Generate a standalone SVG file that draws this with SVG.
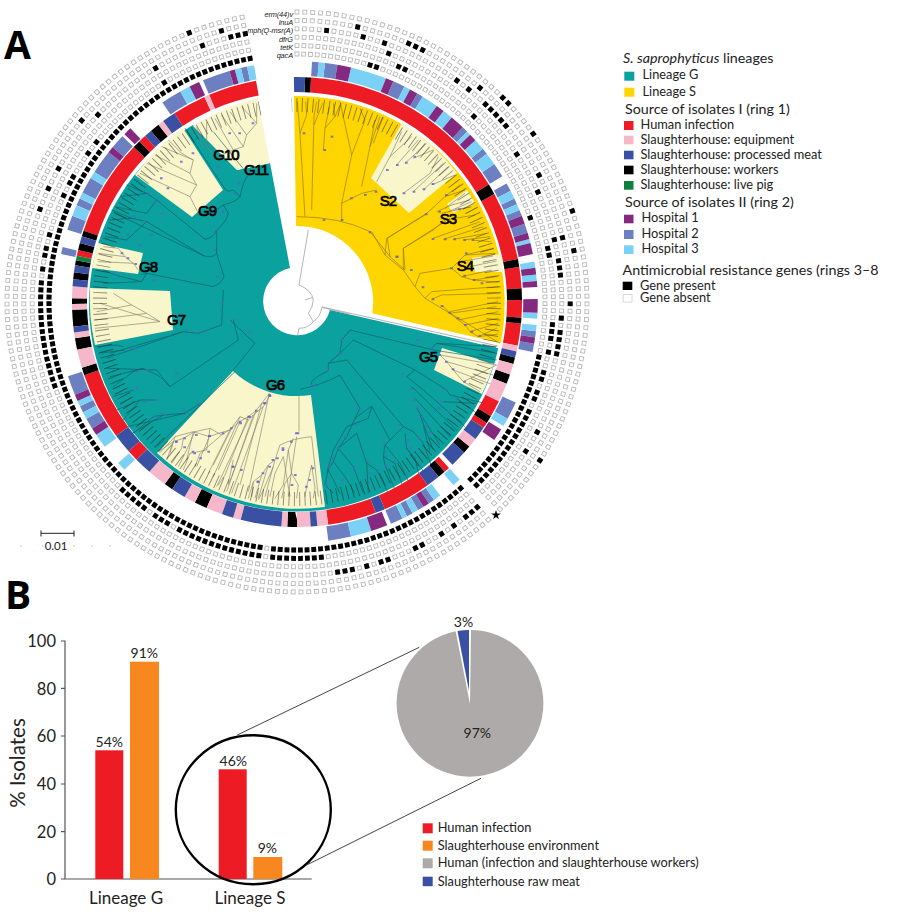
<svg xmlns="http://www.w3.org/2000/svg" width="900" height="920" viewBox="0 0 900 920">
<style>
text{font-family:"Lato","Liberation Sans",sans-serif;fill:#222}
.ring circle,.ring use{fill:none}
.sq{stroke:#b8b8b8;stroke-width:4.8}
.sw{stroke:#fff;stroke-width:3}
.sb{stroke:#000;stroke-width:5}
.mk{fill:none;stroke:#fff;stroke-width:8}
.a1{stroke-width:15;fill:none}
.a2{stroke-width:14.5;fill:none}
.red{stroke:#ed1c24}.blk{stroke:#000}.pnk{stroke:#f5b7c9}.blu{stroke:#3a51a3}.grn{stroke:#0f8040}
.h1{stroke:#84297f}.h2{stroke:#6b7fc1}.h3{stroke:#7bd0f5}
.lc{fill:#f9f6cc}
.bt,.by,.bl,.bh{fill:none;stroke-width:1.9}
.bt{stroke:#0c5c66}.by{stroke:#8d7518}.bl{stroke:#84816a}.bh{stroke:#a9a9ad;stroke-width:2.6}
.nb{fill:none;stroke:#5b63c9;stroke-width:6;stroke-opacity:.8}
.cl{font-family:"Liberation Sans",sans-serif;font-size:15px;fill:#000;stroke:#000;stroke-width:.7;letter-spacing:-1px;text-anchor:middle}
.gl{font-family:"Liberation Sans",sans-serif;font-style:italic;font-size:7.4px;letter-spacing:-.12px;text-anchor:end}
.lg{font-size:12.8px}
.lh{font-size:14.3px}
.b1{font-size:14px;text-anchor:middle}
.ax{font-size:16.5px;text-anchor:end}
.bb{fill:#000;font-family:"Open Sans","Liberation Sans",sans-serif;font-weight:700;font-size:39px}
</style>
<defs>
<circle id="R1" r="248" pathLength="231" transform="rotate(-90.78)" stroke-dasharray=".712 .288" stroke-dashoffset="-.144"/>
<circle id="R2" r="256.4" pathLength="231" transform="rotate(-90.78)" stroke-dasharray=".688 .312" stroke-dashoffset="-.156"/>
<circle id="R3" r="264.8" pathLength="231" transform="rotate(-90.78)" stroke-dasharray=".666 .334" stroke-dashoffset="-.167"/>
<circle id="R4" r="273.2" pathLength="231" transform="rotate(-90.78)" stroke-dasharray=".646 .354" stroke-dashoffset="-.177"/>
<circle id="R5" r="281.6" pathLength="231" transform="rotate(-90.78)" stroke-dasharray=".627 .373" stroke-dashoffset="-.187"/>
<circle id="R6" r="290" pathLength="231" transform="rotate(-90.78)" stroke-dasharray=".609 .391" stroke-dashoffset="-.195"/>
<mask id="m1"><circle class="mk" r="248" pathLength="231" transform="rotate(-90.78)" stroke-dashoffset="-11" stroke-dasharray="2 32 1 20 22 1 31 1 104 231"/></mask>
<mask id="m2"><circle class="mk" r="256.4" pathLength="231" transform="rotate(-90.78)" stroke-dashoffset="-15" stroke-dasharray="2 11 1 21 2 9 3 1 1 2 2 1 2 1 14 24 8 1 13 1 3 1 5 17 16 1 1 1 2 1 1 5 1 1 2 3 1 1 1 12 1 231"/></mask>
<mask id="m3"><circle class="mk" r="264.8" pathLength="231" transform="rotate(-90.78)" stroke-dashoffset="-13" stroke-dasharray="1 22 1 5 1 6 1 2 3 5 1 1 4 231"/></mask>
<mask id="m4"><circle class="mk" r="273.2" pathLength="231" transform="rotate(-90.78)" stroke-dashoffset="-4" stroke-dasharray="1 4 1 2 1 10 1 1 1 2 5 7 1 8 1 8 1 17 1 2 1 9 3 1 1 1 1 2 2 3 2 1 1 1 3 75 1 2 1 2 1 8 1 9 1 6 1 3 3 231"/></mask>
<mask id="m5"><circle class="mk" r="281.6" pathLength="231" transform="rotate(-90.78)" stroke-dashoffset="-8" stroke-dasharray="1 6 3 8 1 24 1 147 1 21 1 231"/></mask>
<mask id="m6"><circle class="mk" r="290" pathLength="231" transform="rotate(-90.78)" stroke-dashoffset="-29" stroke-dasharray="2 4 1 10 1 32 1 137 1 231"/></mask>
</defs>
<rect width="900" height="920" fill="#fff"/>

<!-- tree sectors -->
<path fill="#0aa19e" d="M330,310 L498.3,348.3 A207,207 0 1 1 193,125 L237,170 L270,163 L290,268 A34,34 0 1 0 330,310Z"/>
<path fill="#ffd500" d="M294,96 A207,207 0 0 1 500.7,343.3 L372.3,313.3 A76,76 0 0 0 296,226Z"/>
<path class="lc" d="M193,126 A207,207 0 0 1 258,98 L270,163 L237,170Z"/>
<path class="lc" d="M135,175 A207,207 0 0 1 183,128 L223,190 L192,217Z"/>
<path class="lc" d="M98,243 L143,253 L138,274 L92,268 A207,207 0 0 1 98,243Z"/>
<path class="lc" d="M90,288 L170,291 L173,330 L95,345 A207,207 0 0 1 90,288Z"/>
<path class="lc" d="M157,453 L233,371 A94,94 0 0 0 311,395 L325,507 A207,207 0 0 1 157,453Z"/>
<path class="lc" d="M442,348 L494,364 A207,207 0 0 1 482,394 L434,370Z"/>
<path class="lc" d="M402,123 A207,207 0 0 1 457,173 L409,213 L371,178Z"/>
<path class="lc" d="M447,204 L467,190 L475,203 L453,213Z"/>
<path class="lc" d="M472,258 L501,254 L503,272 L475,272Z"/>
<path fill="none" stroke="#b4b4b8" stroke-width="1" d="M322,307 L498,346"/>

<!-- branches -->
<g id="root-tree" transform="translate(250,215) scale(.3333)">
<path class="bh" d="M175,45 L147,210 Q185,225 190,255 Q188,280 175,295 L190,320 Q175,340 147,340 L143,360 M165,255 L188,247 M215,278 Q212,305 190,320 M215,277 L300,298"/>
</g>
<g id="tree-yellow-top" transform="translate(290,0) scale(.3333)">
<path class="by" d="M20,650 Q150,650 240,695 M45,650 L30,400 L50,345 L47,305 M30,400 L22,305 M65,630 L72,350 L80,305 M72,375 L98,310 M100,450 L105,385 L135,350 L130,310 M105,385 L118,320 M135,350 L150,315 M155,610 L185,465 L225,360 L210,325 M185,465 L150,305 M215,560 L240,440 L255,360 M240,440 L270,350 M215,580 L260,570 M250,430 L280,350 M155,660 L155,610 L215,580 M240,695 L300,770 L292,715 L410,640 M300,770 L345,810 L340,745 L480,655"/>
<path class="bl" d="M260,545 L300,470 L335,395 M300,470 L365,410 M320,495 L385,420 M345,490 L410,430 M370,475 L430,450 M340,580 L420,520 L445,470 M370,575 L460,490 M400,570 L475,500 M425,555 L495,525"/>
<path class="nb" d="M38,400h8M98,660h8M152,660h8M236,697h8M100,450h8M122,410h8M180,595h8M222,585h8M254,575h8M316,770h8M288,510h8M318,495h8M345,488h8M370,470h8M338,580h8M368,575h8M398,568h8M425,552h8"/>
</g>
<g id="tree-yellow-lower" transform="translate(370,180) scale(.3333)">
<path class="by" d="M165,105 L225,50 L270,15 M225,50 L285,30 M200,95 L245,75 L300,60 M215,100 L305,80 M190,150 L225,120 L315,105 M190,175 L330,125 M220,178 L340,140 M250,178 L350,160 M280,180 L360,170 M305,180 L362,185 M245,265 L285,225 L370,205 M285,225 L375,220 M245,265 L275,290 L365,270 M275,290 L310,300 L380,290 M310,300 L385,307 M165,355 L185,335 L385,320 M185,358 L215,345 L390,340 M215,375 L240,400 L380,380 M240,400 L265,420 L385,395 M265,420 L285,435 L385,415 M285,435 L300,455 L385,430 M300,455 L325,470 L380,445 M325,470 L385,462 M240,395 L385,365 M165,355 L390,490"/>
<path class="by" d="M5,155 L45,225 L50,175 L165,105 M45,225 L100,270 L100,205 L190,150 M100,270 L135,320 L150,280 L245,265 M135,320 L165,355"/>
<path class="bl" d="M225,85 L285,40 M235,95 L305,65 M255,88 L300,82 M270,245 L370,228 M300,260 L380,243"/>
<path class="nb" d="M165,103h8M225,45h8M205,95h8M265,88h8M185,177h8M222,178h8M250,178h8M280,180h8M305,180h8M240,265h8M285,220h8M280,287h8M308,300h8M332,310h8M78,230h8M120,270h8M155,322h8M185,358h8M212,378h8M235,398h8M260,415h8M282,435h8M302,455h8M325,468h8"/>
</g>
<g id="tree-teal-top" transform="translate(0,0) scale(.3333)">
<path class="bt" d="M640,860 Q665,850 672,830 L650,760 M640,860 L440,820 L425,845 L345,825 M440,820 L420,825 M425,845 L310,850 M345,825 L310,810 M650,760 Q640,775 612,768 L345,640 M612,768 L440,665 L380,720 L315,710 M440,665 L395,655 L325,660 M395,655 L335,630 M650,760 L650,690 Q640,715 615,718 L470,600 L440,640 L345,620 M470,600 L440,580 L360,590 M440,580 L380,555 M650,690 Q680,665 685,640 L670,615 M670,615 Q640,640 595,645 M670,615 Q710,605 720,590 L700,570 M700,570 Q680,580 670,560 L555,385 M720,590 Q730,540 745,525 L640,395"/>
<path class="bl" d="M595,640 L570,590 L420,520 M570,590 L590,555 L440,490 M590,555 L570,520 L465,465 M570,520 L580,480 L485,440 M580,480 L545,460 L505,420 M610,445 L590,380 M650,470 L620,440 L620,365 M650,470 L700,450 L645,355 M700,450 L730,440 L665,345 M730,440 L740,405 L690,335 M740,405 L770,370 L725,320 M770,370 L770,310 M310,740 L355,745 L375,770 L400,790 L295,785 M375,770 L295,760 M400,790 L415,810"/>
<path class="nb" d="M648,690h8M640,750h8M650,830h8M458,840h8M345,825h8M450,705h8M415,735h8M380,705h8M430,665h8M480,640h8M400,650h8M462,605h8M440,580h8M665,635h8M700,580h8M712,550h8M650,500h8M575,460h8M540,485h8M500,565h8M480,535h8M685,400h8M715,400h8M755,370h8M362,760h8M380,775h8M403,792h8"/>
</g>
<g id="tree-teal-left" transform="translate(0,290) scale(.3333)">
<path class="bt" d="M670,0 L665,105 L595,130 M595,130 L550,125 L330,190 M550,125 L320,205 M700,90 L715,150 L510,290 L470,240 L320,235 M510,290 L480,260 L430,235 L330,260 M430,235 L400,245 L340,290 M400,300 L340,320 M470,330 L420,330 L350,360 M420,330 L370,390 M600,340 L555,370 L360,415 M555,370 L490,375 L380,440 M490,375 L460,380 L400,430 M470,470 L705,245 M370,170 L350,165 L290,170 M375,180 L295,190 M690,90 L765,160 L700,240"/>
<path class="bl" d="M810,315 L790,350 L760,375 L745,390 L720,380 L690,420 L655,430 L628,440 L580,425 L525,440 L478,490 M790,350 L695,610 M760,375 L680,605 M745,390 L650,590 M720,380 L640,560 M690,420 L625,550 M628,440 L590,530 M580,425 L560,510 M525,440 L510,490 M700,510 L685,580 M850,500 L825,550 L810,620 M850,500 L870,620 M820,530 L790,600 L775,630 M890,440 L875,540 L865,620 M340,10 L395,45 L440,70 L480,95 L300,40 M395,45 L290,65 M440,70 L285,90 M480,95 L285,115"/>
<path class="nb" d="M662,40h8M700,90h8M745,125h8M555,120h8M585,128h8M610,125h8M400,175h8M525,250h8M438,240h8M405,245h8M460,330h8M430,335h8M405,295h8M595,340h8M548,362h8M490,372h8M460,380h8M805,315h8M792,340h8M745,380h8M718,400h8M625,438h8M580,490h8M525,455h8M695,530h8M845,480h8M770,575h8M815,510h8M885,430h8"/>
</g>
<g id="tree-g6" transform="translate(150,370) scale(.3333)">
<path class="bl" d="M358,70 L335,100 L270,345 M358,70 L295,365 M335,100 L318,122 L245,320 M318,122 L295,140 L225,315 M295,140 L270,155 L205,300 M270,155 L245,175 L190,285 M245,175 L215,195 L180,175 L135,185 L100,205 L70,215 L25,245 M215,195 L150,250 L135,290 M180,175 L170,240 L120,250 L100,300 M135,185 L110,240 L85,290 M100,205 L95,235 L65,280 M70,215 L50,270 M225,315 L205,345 M245,320 L235,345 M447,78 L447,185 M390,225 Q430,205 485,200 L505,380 M485,285 L470,350 L465,380 M485,285 L495,355 L490,385 M390,225 L375,270 L355,285 L335,315 L310,335 L295,385 M375,270 L345,380 M355,285 L325,385 M335,315 L315,385 M310,335 L305,380 M430,205 L415,240 L425,310 L405,340 L395,385 M425,310 L445,345 L440,385 M415,240 L400,345 L375,385"/>
<path class="nb" d="M356,78h8M338,100h8M315,122h8M292,140h8M266,155h8M240,175h8M215,190h8M175,198h8M135,195h8M100,205h8M75,215h8M100,232h8M125,245h8M172,245h8M148,265h8M440,190h8M420,215h8M395,235h8M378,265h8M355,290h8M335,310h8M320,335h8M245,290h8M270,300h8M432,315h8M485,295h8M475,330h8M422,345h8M465,350h8"/>
</g>
<g id="tree-teal-bottom" transform="translate(300,330) scale(.3333)">
<path class="bt" d="M0,178 Q65,165 120,135 M35,165 Q25,150 85,122 L85,100 L140,90 L310,290 M120,135 L180,235 L165,265 L215,228 L270,330 M165,265 L140,320 M215,230 L205,265 L140,290 L100,360 L80,430 M140,320 L115,355 L100,395 L85,420 L75,465 M170,310 L200,400 L230,420 L265,490 M200,400 L205,490 M170,310 L115,355 M115,355 L160,410 L190,490 M100,395 L135,440 L165,490 M85,420 L120,490 M75,465 L100,490 M120,70 L160,30 L345,120 M85,100 L120,70 M125,30 L150,0 L400,60 M120,70 L125,30 M310,290 L255,345 L300,400 L335,475 M255,345 L250,380 L285,400 L310,475 M250,380 L255,405 L285,480 M310,290 L340,305 L370,340 L395,410 M315,310 L320,355 L375,430 M320,355 L345,385 L360,450 M345,120 L320,140 L370,180 L495,290 M345,120 L440,180 L450,195 L555,220 M335,170 L470,300 M345,205 L450,320 M350,235 L420,345 M360,255 L400,360 M370,285 L390,365 M430,215 L530,220 M470,205 L530,250 M395,55 L410,40 L590,70 M410,40 L590,50 M400,60 L590,90"/>
<path class="bl" d="M420,75 L440,95 L460,120 L490,155 L590,105 M440,95 L580,135 M460,120 L580,165 M490,155 L540,185 M420,75 L590,105"/>
<path class="nb" d="M120,30h8M118,70h8M80,122h8M32,165h8M172,235h8M162,285h8M132,320h8M112,355h8M95,385h8M85,412h8M75,465h8M125,450h8M158,415h8M200,395h8M203,430h8M230,420h8M250,340h8M255,378h8M255,405h8M280,395h8M295,285h8M320,330h8M328,355h8M355,325h8M305,132h8M330,178h8M340,210h8M350,235h8M362,260h8M375,285h8M385,308h8M412,235h8M435,180h8M465,208h8M420,215h8M440,243h8M350,30h8M392,55h8M415,75h8M435,95h8M455,118h8M490,155h8"/>
</g>
<g id="tip-labels" transform="translate(297,302)" class="ring">
<circle r="197" pathLength="231" transform="rotate(-90.78)" stroke="#1c1c1c" stroke-opacity=".5" stroke-width="14" stroke-dasharray=".17 .83" stroke-dashoffset="-.41"/>
<circle r="197" pathLength="231" transform="rotate(-90.78)" stroke="#fff" stroke-width="24" stroke-dashoffset="-224.6" stroke-dasharray="5.9 231"/>
</g>

<g id="rings" class="ring" transform="translate(297,302)">
<circle class="a1 red" r="217.5" pathLength="360" transform="rotate(-90)" stroke-dashoffset="-3.6" stroke-dasharray="54.9 2.8 17.7 2 5.5 3 4.5 1.5 5.7 15 4.3 2 1.5 13.5 1.5 5.5 12.5 2.5 12.5 53.5 3 5 17.5 30.9 1.5 5.1 25 2 2 9.5 8.7 1.3 12.5 360"/>
<circle class="a1 blk" r="217.5" pathLength="360" transform="rotate(-90)" stroke-dashoffset="-2.1" stroke-dasharray="1.5 54.9 2.8 17.7 2 5.5 3 4.5 1.5 8.8 1.7 2.8 2.5 9.2 2 7.5 2 7 2 39 2.5 21.2 3.3 6.7 2.3 35 2 4.7 3 3 4.3 1.5 1.5 4.8 1.8 1.8 1.3 2.7 1.8 1.8 1.5 25 2 4 2.5 360"/>
<circle class="a1 pnk" r="217.5" pathLength="360" transform="rotate(-90)" stroke-dashoffset="-101.2" stroke-dasharray="1.5 3.3 2.8 2.5 4.9 11.3 2.5 42 2.8 1.7 3.5 2.5 1.5 10.5 2 3 4.2 3.3 3 6 5 32 4.7 3 1.5 5.8 1.5 1.5 3 48 1.5 12.2 1.3 360"/>
<circle class="a1 blu" r="217.5" pathLength="360" transform="rotate(-90)" stroke-dasharray="2.1 100.6 1.6 19.7 3.5 4.5 4.3 4.7 3.5 12.5 2.5 15.3 1.7 7.5 10.5 2 3 10.5 3.7 7.3 4.5 3 5 28.7 1.5 10.3 1.8 1.8 1.8 5.8 1.8 30.5 2 4 3.5 32.2 .8 360"/>
<circle class="a1 grn" r="217.5" pathLength="360" transform="rotate(-90)" stroke-dashoffset="-280.7" stroke-dasharray="1.2 360"/>
<circle class="a2 h2" r="233.5" pathLength="360" transform="rotate(-90)" stroke-dashoffset="-3.6" stroke-dasharray="1.6 1.5 3 13.9 2.9 3.5 1.5 12 1.5 5.5 1.5 3 3.5 2 2 2 1.5 1.5 1.5 2 2.3 23.7 1.5 1.5 2 12.7 4.3 26.3 1.5 1.5 1.5 1.5 1.5 1.2 3 10 5.5 65.8 2.7 1.7 1.6 3 4.7 29.5 1.7 4.3 3.5 2.7 1.8 1.5 4 1.7 5.8 1.5 3.5 12.5 5 6 6.7 2.8 1.5 360"/>
<circle class="a2 h3" r="233.5" pathLength="360" transform="rotate(-90)" stroke-dashoffset="-5.2" stroke-dasharray="1.5 6.3 8.7 4.8 1.5 3.5 4 2 2.5 5 1 1.8 2.7 1.5 3 7.5 2 1.5 1.5 7.3 1 4.5 1.5 1.6 1.6 7.6 1.4 1.5 1.5 22 2 16.5 2 4 1.8 4.5 1.5 1.5 1.2 8 5 58.8 2.2 5 3.5 4.5 1.7 1.6 1.4 45.3 2.7 1.8 1.5 4 1.7 28.3 2.5 11.5 1.5 1.5 1.7 360"/>
<circle class="a2 h1" r="233.5" pathLength="360" transform="rotate(-90)" stroke-dashoffset="-9.7" stroke-dasharray="3.3 8.7 1.9 4.4 2 5.5 2 2.5 3.5 2.5 1.8 21.2 2 2.3 1.5 1 2.7 3.3 1.6 1.6 1.4 2.9 3.3 5.9 1.5 22 3 21.8 1.5 9.7 4 74.5 1.8 7.4 1.6 61.2 1.5 4.2 2 17.3 2.5 7.7 1.3 360"/>

<use href="#R1" class="sq"/><use href="#R2" class="sq"/><use href="#R3" class="sq"/><use href="#R4" class="sq"/><use href="#R5" class="sq"/><use href="#R6" class="sq"/>
<circle class="sw" r="248" pathLength="231" transform="rotate(-90.78)" stroke-dasharray=".445 .555" stroke-dashoffset="-.2775"/>
<circle class="sw" r="256.4" pathLength="231" transform="rotate(-90.78)" stroke-dasharray=".43 .57" stroke-dashoffset="-.285"/>
<circle class="sw" r="264.8" pathLength="231" transform="rotate(-90.78)" stroke-dasharray=".416 .584" stroke-dashoffset="-.292"/>
<circle class="sw" r="273.2" pathLength="231" transform="rotate(-90.78)" stroke-dasharray=".404 .596" stroke-dashoffset="-.298"/>
<circle class="sw" r="281.6" pathLength="231" transform="rotate(-90.78)" stroke-dasharray=".392 .608" stroke-dashoffset="-.304"/>
<circle class="sw" r="290" pathLength="231" transform="rotate(-90.78)" stroke-dasharray=".38 .62" stroke-dashoffset="-.31"/>
<g mask="url(#m1)"><use href="#R1" class="sb"/></g>
<g mask="url(#m2)"><use href="#R2" class="sb"/></g>
<g mask="url(#m3)"><use href="#R3" class="sb"/></g>
<g mask="url(#m4)"><use href="#R4" class="sb"/></g>
<g mask="url(#m5)"><use href="#R5" class="sb"/></g>
<g mask="url(#m6)"><use href="#R6" class="sb"/></g>
<circle r="269" pathLength="231" transform="rotate(-90.78)" stroke="#fff" stroke-width="54" stroke-dashoffset="-225" stroke-dasharray="6 231"/>
<circle r="269" pathLength="231" transform="rotate(-90.78)" stroke="#fff" stroke-width="54" stroke-dashoffset="-88" stroke-dasharray="1 231"/>
</g>
<polygon id="star" fill="#000" points="496,510 497.1,513.5 500.8,513.5 497.8,515.7 498.9,519.2 496,517 493.1,519.2 494.2,515.7 491.2,513.5 494.9,513.5"/>

<g id="clade-labels">
<text class="cl" x="226" y="160">G10</text><text class="cl" x="256" y="175">G11</text><text class="cl" x="207" y="216">G9</text>
<text class="cl" x="148" y="272">G8</text><text class="cl" x="176" y="325">G7</text><text class="cl" x="275" y="390">G6</text>
<text class="cl" x="428" y="362">G5</text><text class="cl" x="388" y="206">S2</text><text class="cl" x="448" y="224">S3</text><text class="cl" x="465" y="271">S4</text>
</g>
<g id="gene-labels">
<text class="gl" x="293" y="17">erm(44)v</text><text class="gl" x="293" y="25">lnuA</text><text class="gl" x="293" y="33.3">mph(Q-msr(A)</text>
<text class="gl" x="293" y="41.5">dfrG</text><text class="gl" x="293" y="49.8">tetK</text><text class="gl" x="293" y="58">qacA</text>
</g>
<text class="bb" x="4" y="59">A</text>
<text class="bb" x="5" y="609">B</text>

<g id="scale-bar">
<path d="M41,533.3H74M41,530.5v6M74,530.5v6" fill="none" stroke="#222" stroke-width="1"/>
<text x="56" y="549.5" font-size="11.5" text-anchor="middle">0.01</text>
<path d="M20,546h2M42,546h2M73,546h2M91,546h2M109,546h2" stroke="#ccc" stroke-width="1"/>
</g>

<g id="legend-a">
<text class="lh" x="623" y="63"><tspan font-style="italic">S. saprophyticus</tspan> lineages</text>
<rect x="624.3" y="71.7" width="10" height="9" fill="#0aa19e"/><text class="lg" x="642.5" y="79">Lineage G</text>
<rect x="624.3" y="87.7" width="10" height="9" fill="#ffd500"/><text class="lg" x="642.5" y="96">Lineage S</text>
<text class="lh" x="625" y="114">Source of isolates I (ring 1)</text>
<rect x="624" y="121" width="9.5" height="9" fill="#ed1c24"/><text class="lg" x="640.5" y="129">Human infection</text>
<rect x="624" y="135.7" width="9.5" height="8.6" fill="#f5b7c9"/><text class="lg" x="640.5" y="143.5">Slaughterhouse: equipment</text>
<rect x="624" y="150.7" width="9.5" height="8.6" fill="#3a51a3"/><text class="lg" x="640.5" y="159">Slaughterhouse: processed meat</text>
<rect x="624" y="165.7" width="9.5" height="8.6" fill="#000"/><text class="lg" x="640.5" y="173.5">Slaughterhouse: workers</text>
<rect x="624" y="181" width="9.5" height="8.7" fill="#0f8040"/><text class="lg" x="640.5" y="189">Slaughterhouse: live pig</text>
<text class="lh" x="625" y="207">Source of isolates II (ring 2)</text>
<rect x="624" y="214.7" width="9.5" height="8.6" fill="#84297f"/><text class="lg" x="641.5" y="222">Hospital 1</text>
<rect x="624" y="230" width="9.5" height="9" fill="#6b7fc1"/><text class="lg" x="641.5" y="237.5">Hospital 2</text>
<rect x="624" y="245.3" width="9.5" height="8.7" fill="#7bd0f5"/><text class="lg" x="641.5" y="253.3">Hospital 3</text>
<text class="lh" x="622.5" y="274.5">Antimicrobial resistance genes (rings 3–8</text>
<rect x="622.7" y="281.7" width="9.6" height="8.3" fill="#000"/><text class="lg" x="640" y="289.5">Gene present</text>
<rect x="623.2" y="294.5" width="8.8" height="7.6" fill="#fff" stroke="#d8d8d8"/><text class="lg" x="640" y="301.8">Gene absent</text>
</g>

<g id="bar-chart">
<path d="M61,641H65V879M61,688.3H65M61,736H65M61,784H65M61,831.7H65M61,879H311.7" fill="none" stroke="#555" stroke-width="1.2"/>
<text class="ax" x="56" y="647">100</text><text class="ax" x="56" y="694.5">80</text><text class="ax" x="56" y="742">60</text><text class="ax" x="56" y="790">40</text><text class="ax" x="56" y="837.5">20</text><text class="ax" x="56" y="885">0</text>
<text transform="translate(25,763) rotate(-90)" font-size="20.5" text-anchor="middle">% Isolates</text>
<rect x="95.3" y="750.3" width="28" height="128.7" fill="#ed1c24"/>
<rect x="130" y="661.7" width="29" height="217.3" fill="#f7871e"/>
<rect x="218.7" y="769.3" width="28" height="109.7" fill="#ed1c24"/>
<rect x="253.3" y="857" width="29" height="22" fill="#f7871e"/>
<text class="b1" x="109.3" y="746.7">54%</text><text class="b1" x="144.3" y="658.3">91%</text><text class="b1" x="233.3" y="766">46%</text><text class="b1" x="267.3" y="853.3">9%</text>
<text x="126" y="903.5" font-size="17" text-anchor="middle">Lineage G</text><text x="250" y="903.5" font-size="17" text-anchor="middle">Lineage S</text>
<ellipse cx="253.3" cy="809.7" rx="77.5" ry="74.5" fill="none" stroke="#000" stroke-width="2.4"/>
<path d="M237.3,735 L419.3,647.3 M306.7,865 L481,778.3" stroke="#444" stroke-width="1" fill="none"/>
</g>
<g id="pie">
<circle cx="470" cy="703.3" r="73.4" fill="#aeaaaa"/>
<path d="M455,628 L470,704 L471,628Z" fill="#fff"/>
<path d="M469,691 L457.5,631 A73.4,73.4 0 0 1 469,630Z" fill="#3a51a3"/>
<text class="b1" x="463.5" y="626.7">3%</text><text class="b1" x="477.3" y="738.3">97%</text>
</g>
<g id="legend-b">
<rect x="422.7" y="823.3" width="10" height="10" fill="#ed1c24"/><text class="lg" x="437.7" y="832.3">Human infection</text>
<rect x="422.7" y="840.7" width="10" height="10" fill="#f7871e"/><text class="lg" x="437.7" y="850">Slaughterhouse environment</text>
<rect x="422.7" y="858.3" width="10" height="10" fill="#aeaaaa"/><text class="lg" x="437.7" y="867.3">Human (infection and slaughterhouse workers)</text>
<rect x="422.7" y="876.7" width="10" height="9.5" fill="#3a51a3"/><text class="lg" x="437.7" y="886">Slaughterhouse raw meat</text>
</g>
</svg>
